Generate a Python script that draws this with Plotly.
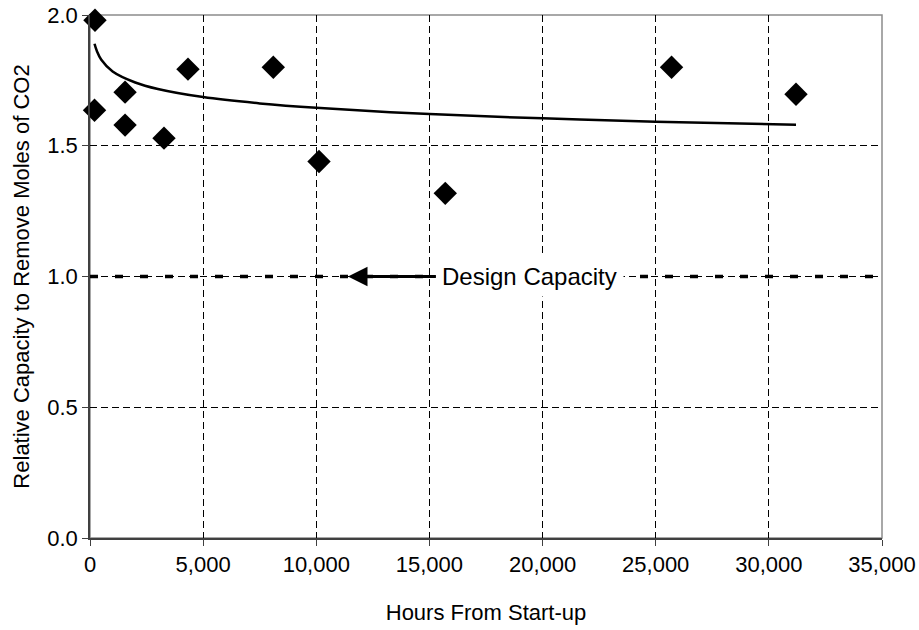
import plotly.graph_objects as go

# Measured points
hours = [220, 200, 1550, 1550, 3270, 4330, 8100, 10120, 15700, 25700, 31200]
capacity = [1.98, 1.636, 1.705, 1.579, 1.529, 1.793, 1.80, 1.44, 1.318, 1.80, 1.697]

# Trend curve
trend_hours = [200, 300, 500, 1000, 2000, 3000, 5000, 7500, 10000, 15000, 20000, 25000, 31200]
trend_capacity = [1.890, 1.863, 1.829, 1.784, 1.742, 1.717, 1.686, 1.662, 1.645, 1.621, 1.605, 1.592, 1.580]

# Design capacity reference
design_hours = [0, 35000]
design_capacity = [1.0, 1.0]

x_ticks = [0, 5000, 10000, 15000, 20000, 25000, 30000, 35000]
y_ticks = [0.0, 0.5, 1.0, 1.5, 2.0]

FONT = "Liberation Sans, Arial, sans-serif"

fig = go.Figure()

fig.add_trace(go.Scatter(
    x=design_hours, y=design_capacity, mode="lines",
    line=dict(color="black", width=3.5, dash="8px,17px"),
    hoverinfo="skip", showlegend=False))

fig.add_trace(go.Scatter(
    x=trend_hours, y=trend_capacity, mode="lines",
    line=dict(color="black", width=2.5, shape="spline", smoothing=1.0),
    showlegend=False))

fig.add_trace(go.Scatter(
    x=hours, y=capacity, mode="markers",
    marker=dict(symbol="diamond", size=18, color="black"),
    cliponaxis=False, showlegend=False))

fig.add_annotation(
    x=11400, y=1.0, xref="x", yref="y",
    ax=19440, ay=1.0, axref="x", ayref="y",
    text="Design Capacity", showarrow=True,
    arrowhead=2, arrowsize=1.3, arrowwidth=3, arrowcolor="black",
    font=dict(family=FONT, size=24, color="black"),
    bgcolor="white", borderpad=6, standoff=0, startstandoff=0)

# plot area border (top/right in gray)
fig.add_shape(type="rect", xref="paper", yref="paper", x0=0, y0=0, x1=1, y1=1,
              line=dict(color="#8c8c8c", width=1.5), layer="below")

fig.update_layout(
    width=919, height=630,
    margin=dict(l=90, r=37, t=15, b=92),
    paper_bgcolor="white", plot_bgcolor="white",
    font=dict(family=FONT, size=22, color="black"),
    showlegend=False,
)

fig.update_xaxes(
    range=[0, 35000], tickvals=x_ticks, tickformat=",d",
    showgrid=True, gridcolor="black", gridwidth=1, griddash="7px,4px",
    showline=True, linecolor="#404040", linewidth=1.5,
    ticks="outside", ticklen=6, tickcolor="#404040",
    tickfont=dict(family=FONT, size=22), ticklabeloverflow="allow",
    title=dict(text="Hours From Start-up", font=dict(family=FONT, size=22), standoff=28),
    zeroline=False, automargin=False,
)
fig.update_yaxes(
    range=[0, 2.0], tickvals=y_ticks, tickformat=".1f",
    showgrid=True, gridcolor="black", gridwidth=1, griddash="7px,4px",
    showline=True, linecolor="#404040", linewidth=1.5,
    ticks="outside", ticklen=6, tickcolor="#404040",
    tickfont=dict(family=FONT, size=22), ticklabeloverflow="allow",
    title=dict(text="Relative Capacity to Remove Moles of CO2", font=dict(family=FONT, size=22), standoff=12),
    zeroline=False, automargin=False,
)

fig.write_html("out.html",
               config={"displayModeBar": False},
               post_script="document.body.style.margin='0';document.body.style.overflow='hidden';")
